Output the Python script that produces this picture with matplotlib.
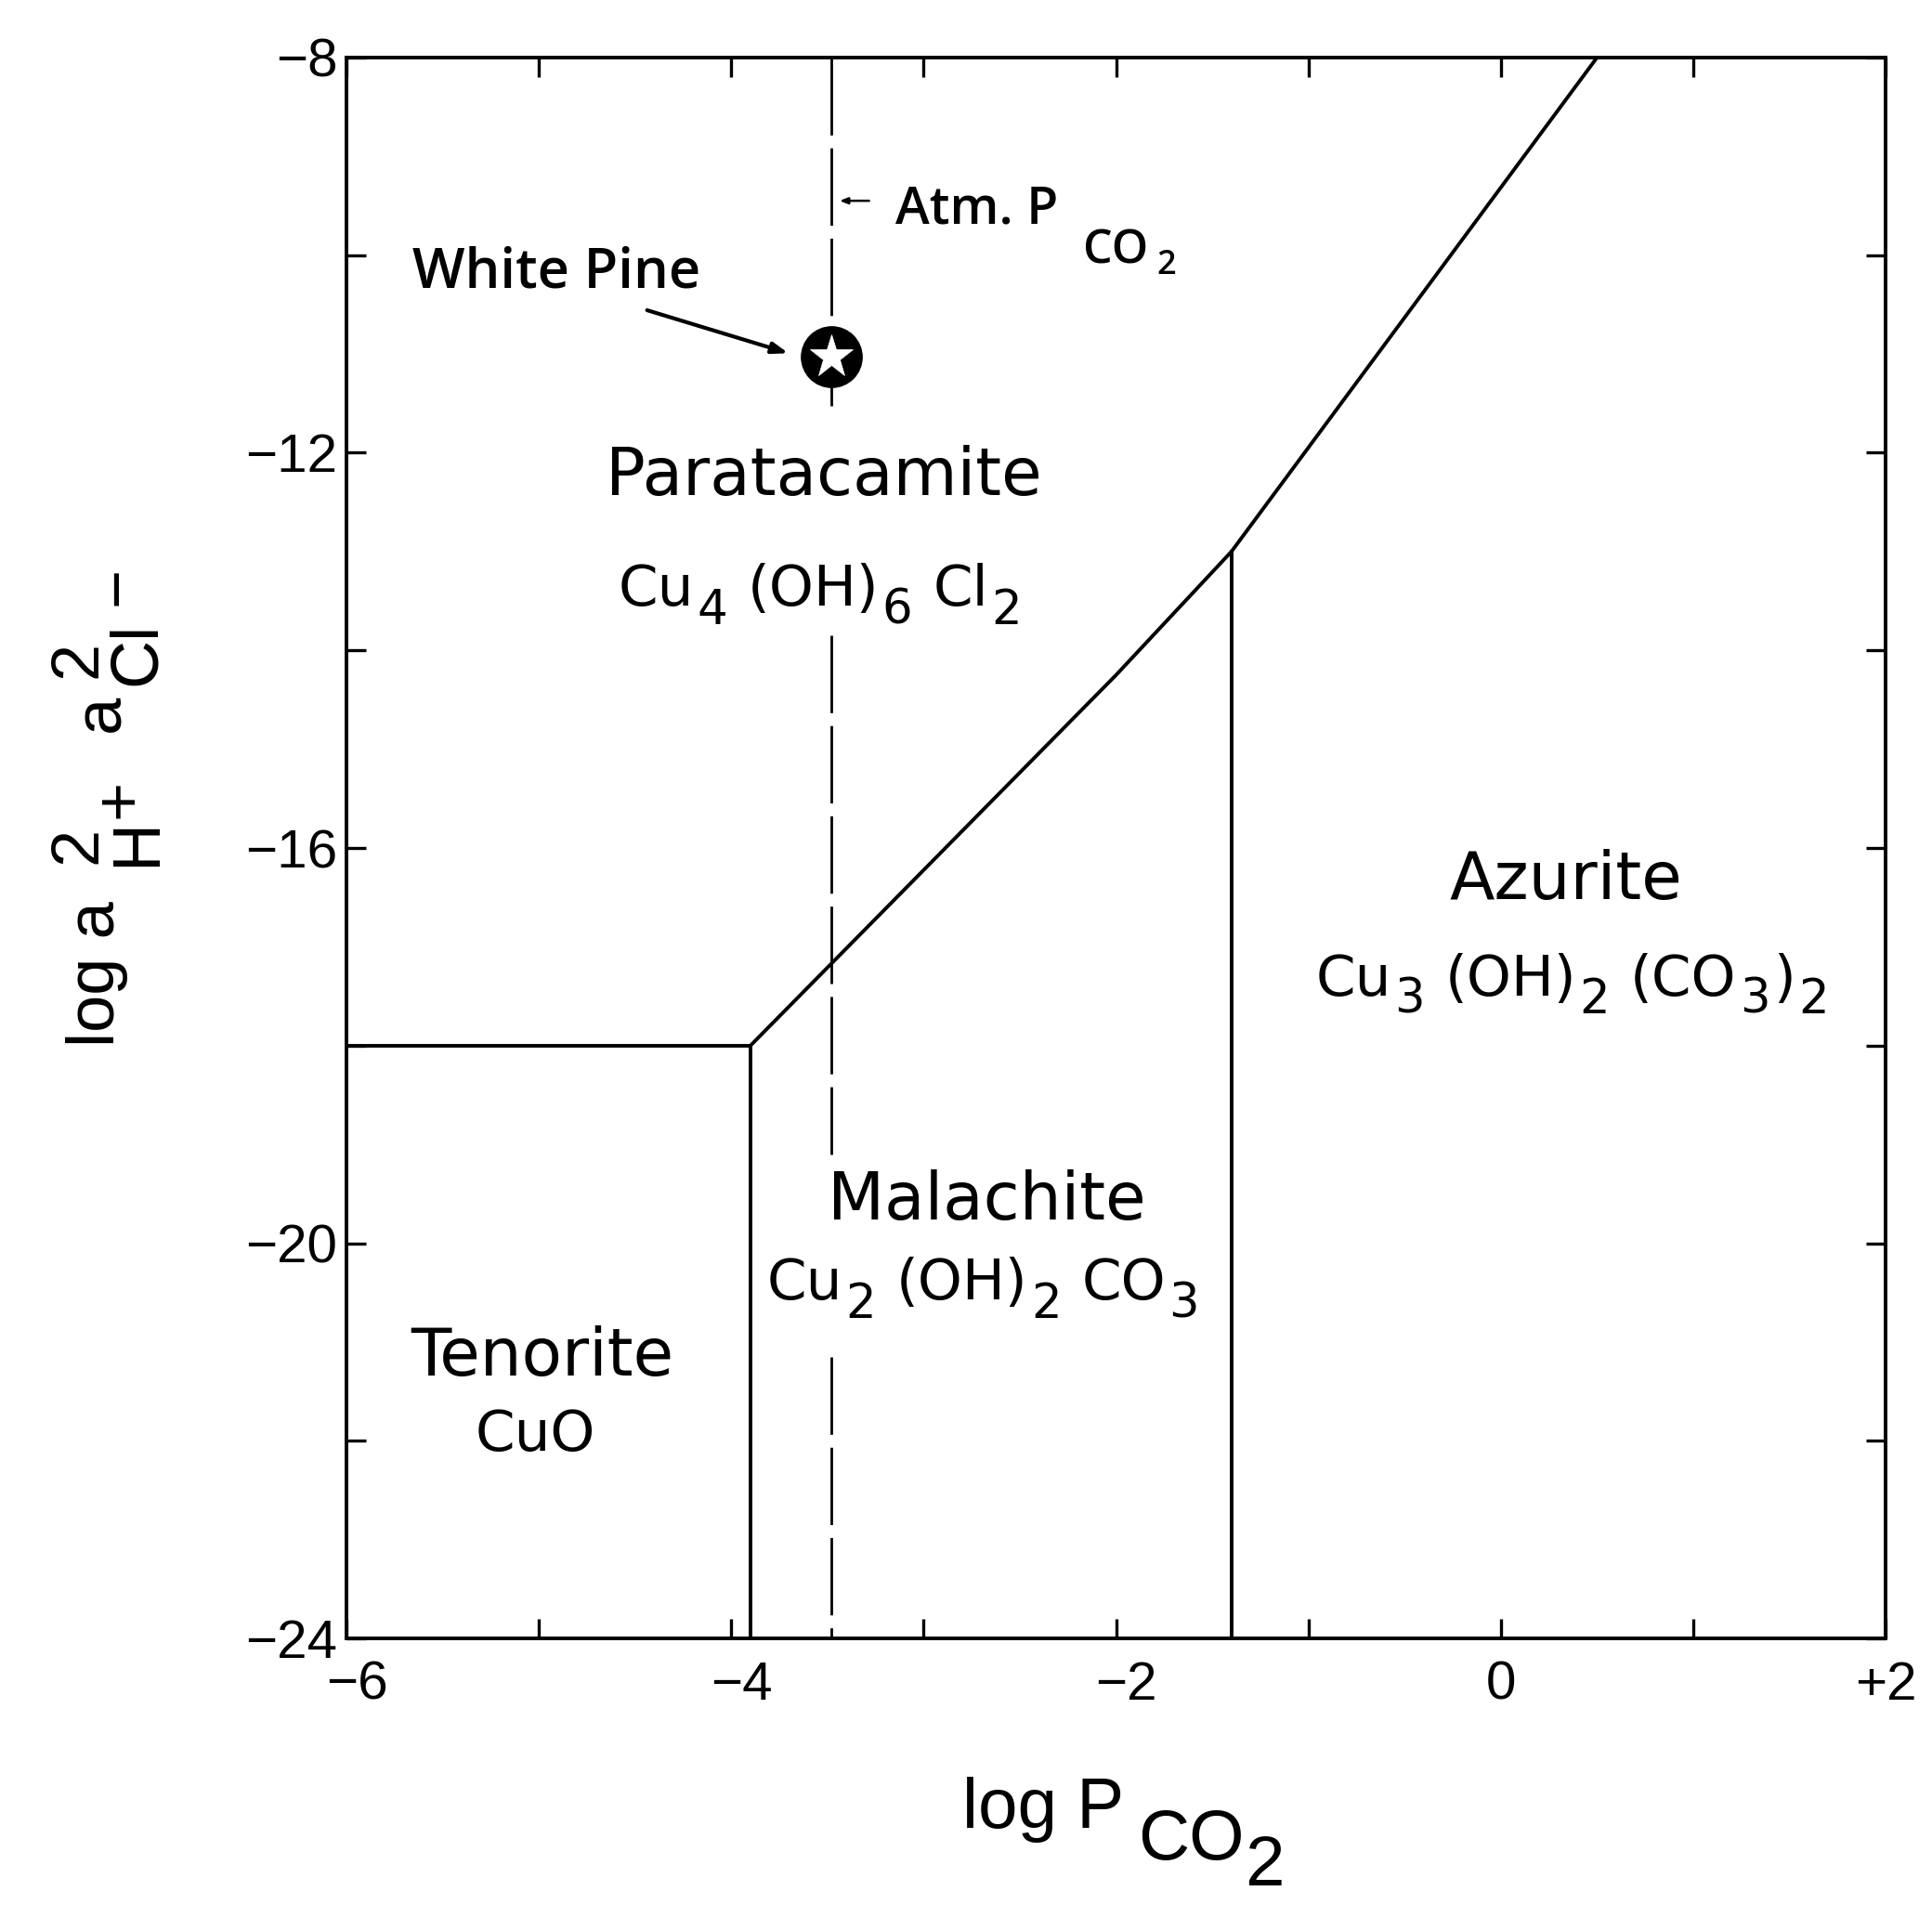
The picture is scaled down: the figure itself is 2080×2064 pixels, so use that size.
import matplotlib
matplotlib.use("Agg")
import matplotlib.pyplot as plt
import matplotlib.transforms as mtransforms
import numpy as np
from matplotlib.textpath import TextToPath
from matplotlib.font_manager import FontProperties

# ---- data ----
tenorite_para_x = [-6.0, -3.9]
tenorite_para_y = [-18.0, -18.0]
tenorite_mal_x = [-3.9, -3.9]
tenorite_mal_y = [-24.0, -18.0]
para_carb_x = [-3.9, -2.0, -1.4, 0.5]
para_carb_y = [-18.0, -14.25, -13.0, -8.0]
mal_azur_x = [-1.4, -1.4]
mal_azur_y = [-24.0, -13.0]
atm_pco2 = -3.48
atm_segments_y = [(-8.0, -11.62), (-13.85, -19.1), (-21.15, -24.0)]
white_pine_x = -3.48
white_pine_y = -11.03

x_ticks = [-6, -4, -2, 0, 2]
x_ticklabels = ["\u22126", "\u22124", "\u22122", "0", "+2"]
y_ticks = [-8, -12, -16, -20, -24]
y_ticklabels = ["\u22128", "\u221212", "\u221216", "\u221220", "\u221224"]

region_names = ["Paratacamite", "Azurite", "Malachite", "Tenorite"]
name_xy = [(-3.52, -12.43), (0.34, -16.52), (-2.67, -19.76), (-4.98, -21.34)]
# formulas: list of (text, is_subscript)
region_formulas = [
    [("Cu", 0), ("4", 1), ("(OH)", 0), ("6", 1), ("Cl", 0), ("2", 1)],
    [("Cu", 0), ("3", 1), ("(OH)", 0), ("2", 1), ("(CO", 0), ("3", 1), (")", 0), ("2", 1)],
    [("Cu", 0), ("2", 1), ("(OH)", 0), ("2", 1), ("CO", 0), ("3", 1)],
    [("CuO", 0)],
]
formula_xy = [(-3.54, -13.55), (0.37, -17.49), (-2.69, -20.57), (-5.02, -22.10)]

fig = plt.figure(figsize=(20.8, 20.64), dpi=100)
ax = fig.add_axes([0.1793, 0.1453, 0.976 - 0.1793, 0.970 - 0.1453])
ax.set_xlim(-6, 2)
ax.set_ylim(-24, -8)

lw = 2.8
ax.plot(tenorite_para_x, tenorite_para_y, color="black", lw=lw)
ax.plot(tenorite_mal_x, tenorite_mal_y, color="black", lw=lw)
ax.plot(para_carb_x, para_carb_y, color="black", lw=lw)
ax.plot(mal_azur_x, mal_azur_y, color="black", lw=lw)

for y0, y1 in atm_segments_y:
    ax.plot([atm_pco2, atm_pco2], [y0, y1], color="black", lw=2.0,
            linestyle=(0, (30, 5)))

# White Pine point
ax.plot([white_pine_x], [white_pine_y], marker="o", ms=47, color="black", zorder=5)
ax.plot([white_pine_x], [white_pine_y], marker="*", ms=35, color="white",
        markeredgecolor="white", markeredgewidth=0.5, zorder=6)

ax.annotate("", xy=(-3.69, -11.0), xytext=(-4.45, -10.55),
            arrowprops=dict(arrowstyle="-|>,head_length=1.0,head_width=0.35",
                            color="black", lw=3))
ax.text(-4.91, -10.18, "White Pine", fontsize=43, fontfamily="Open Sans",
        fontweight="semibold", ha="center", va="center")

ax.annotate("", xy=(-3.45, -9.45), xytext=(-3.27, -9.45),
            arrowprops=dict(arrowstyle="-|>,head_length=0.5,head_width=0.2",
                            color="black", lw=1.8))
ax.text(-3.145, -9.68, "Atm. P", fontsize=40, fontfamily="Open Sans",
        fontweight="semibold", ha="left", va="baseline")
ax.text(-2.17, -10.08, "CO", fontsize=36, fontfamily="Open Sans",
        fontweight="semibold", ha="left", va="baseline")
ax.text(-1.79, -10.19, "2", fontsize=26, fontfamily="Open Sans",
        fontweight="semibold", ha="left", va="baseline")

for name, (x, y) in zip(region_names, name_xy):
    ax.text(x, y, name, fontsize=51, fontfamily="DejaVu Sans", ha="center",
            va="baseline")

# formulas with large, lowered subscripts
ttp = TextToPath()
MAIN_SIZE, SUB_SIZE, SUB_DROP = 44, 37, 14
fam = "DejaVu Sans"


def ink_width(s, size):
    w, h, d = ttp.get_text_width_height_descent(s, FontProperties(family=fam, size=size),
                                                ismath=False)
    return w


def draw_formula(pieces, x, y):
    layout = []
    pos = 0.0
    for i, (s, sub) in enumerate(pieces):
        size = SUB_SIZE if sub else MAIN_SIZE
        if i > 0:
            if sub:
                pos += 0.05 * MAIN_SIZE
            elif pieces[i - 1][1] and s != ")":
                pos += 0.36 * MAIN_SIZE
            else:
                pos += 0.06 * MAIN_SIZE
        layout.append((s, pos, -SUB_DROP if sub else 0, size))
        pos += ink_width(s, size)
    total = pos
    for s, p, dy, size in layout:
        ax.annotate(s, xy=(x, y), xytext=(p - total / 2, dy), textcoords="offset points",
                    fontsize=size, fontfamily=fam, ha="left", va="baseline")


for pieces, (x, y) in zip(region_formulas, formula_xy):
    draw_formula(pieces, x, y)

# ticks
tick_font = "Liberation Sans"
ax.set_xticks(x_ticks)
ax.set_xticklabels(x_ticklabels, fontfamily=tick_font, fontsize=42)
ax.set_xticks(np.arange(-6, 3, 1), minor=True)
ax.set_yticks(y_ticks)
ax.set_yticklabels(y_ticklabels, fontfamily=tick_font, fontsize=42)
ax.set_yticks(np.arange(-24, -7, 2), minor=True)
ax.tick_params(which="both", direction="in", top=True, right=True, width=2.4, length=15)
ax.tick_params(axis="x", which="major", pad=17)
ax.tick_params(axis="y", which="major", pad=7)
for s in ax.spines.values():
    s.set_linewidth(2.8)

# digits centred on the tick; minus sign hangs to the left
shift = mtransforms.ScaledTranslation(8 / 72, 0, fig.dpi_scale_trans)
for lab in ax.get_xticklabels():
    if lab.get_text().startswith("\u2212"):
        lab.set_transform(lab.get_transform() + shift)

# x label: log P_CO2 with staircase subscripts
W, H = 2080.0, 2064.0
lab_font = dict(fontfamily="Liberation Sans", fontsize=55, ha="left", va="baseline")
fig.text(1036 / W, 1 - 1968 / H, "log P", **lab_font)
fig.text(1225 / W, 1 - 2002 / H, "CO", **lab_font)
fig.text(1340 / W, 1 - 2030 / H, "2", **lab_font)

# y label: log a^2_{H+} a^2_{Cl-}
ylab = dict(fontfamily="Liberation Sans", fontsize=52, ha="left", va="baseline",
            rotation=90, rotation_mode="anchor")
fig.text(123 / W, 1 - 1127 / H, "log a", **ylab)
fig.text(103 / W, 1 - 930 / H, "2", **ylab)
fig.text(167 / W, 1 - 933 / H, "H", **ylab)
fig.text(149 / W, 1 - 881 / H, "+", **ylab)
fig.text(128 / W, 1 - 788 / H, "a", **ylab)
fig.text(103 / W, 1 - 730 / H, "2", **ylab)
fig.text(167 / W, 1 - 738 / H, "Cl", **ylab)
fig.text(146 / W, 1 - 652 / H, "\u2212", **ylab)

fig.savefig("out.png", dpi=100, facecolor="white")
